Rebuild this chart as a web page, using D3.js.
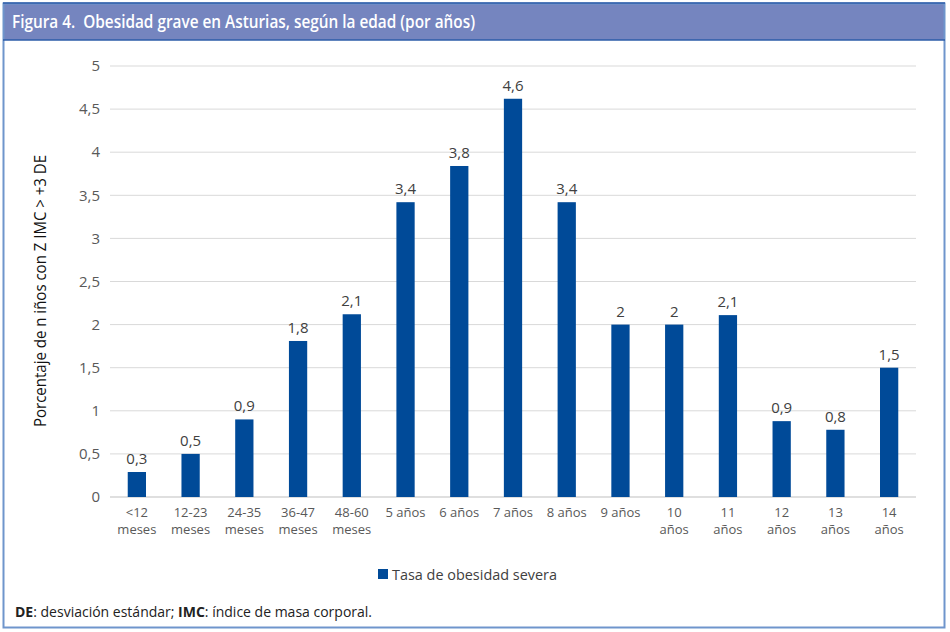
<!DOCTYPE html>
<html lang="es">
  <head>
    <meta charset="UTF-8" />
    <title>Obesidad grave en Asturias</title>
    <script src="https://d3js.org/d3.v7.min.js"></script>
    <style>
      body { margin: 0; background: #fff; }
      text { font-family: "Open Sans", sans-serif; }
    </style>
  </head>
  <body>
    <svg width="950" height="632"></svg>
    <script>
      // Datos
      const categories = [
        "<12|meses", "12-23|meses", "24-35|meses", "36-47|meses", "48-60|meses",
        "5 años", "6 años", "7 años", "8 años", "9 años",
        "10|años", "11|años", "12|años", "13|años", "14|años",
      ];
      const values = [0.29, 0.5, 0.9, 1.81, 2.12, 3.42, 3.84, 4.62, 3.42, 2.0, 2.0, 2.11, 0.88, 0.78, 1.5];
      const yTicks = [0, 0.5, 1, 1.5, 2, 2.5, 3, 3.5, 4, 4.5, 5];
      const seriesName = "Tasa de obesidad severa";

      const es = d3.formatLocale({ decimal: ",", thousands: ".", grouping: [3], currency: ["", "€"] });
      const fmt = es.format(".1~f");

      const svg = d3.select("svg");

      // Marco
      svg.append("rect").attr("x", 3).attr("y", 3).attr("width", 942).attr("height", 37)
        .style("fill", "#7585bf");
      svg.append("rect").attr("x", 3.5).attr("y", 3.5).attr("width", 941).attr("height", 624)
        .style("fill", "none").style("stroke", "#6f95cc").style("stroke-width", 2);
      svg.append("line").attr("x1", 3).attr("x2", 945).attr("y1", 40).attr("y2", 40)
        .style("stroke", "#2c5ca8").style("stroke-width", 1.5);
      svg.append("line").attr("x1", 3).attr("x2", 945).attr("y1", 3).attr("y2", 3)
        .style("stroke", "#2c5ca8").style("stroke-width", 1.5);

      svg.append("text").attr("x", 12).attr("y", 28)
        .attr("textLength", 463).attr("lengthAdjust", "spacingAndGlyphs")
        .style("fill", "#fff").style("font-size", "18px").style("font-weight", 600)
        .text("Figura 4.\u00a0\u00a0Obesidad grave en Asturias, según la edad (por años)");

      // Escalas
      const x = d3.scaleBand().domain(categories).range([110, 916]).paddingInner(0.66).paddingOuter(0.33);
      const y = d3.scaleLinear().domain([0, 5]).range([497, 66]);

      // Rejilla
      svg.append("g").selectAll("line").data(yTicks).enter().append("line")
        .attr("x1", 110).attr("x2", 916)
        .attr("y1", (d) => y(d)).attr("y2", (d) => y(d))
        .style("stroke", (d) => (d === 0 ? "#bfbfbf" : "#d9d9d9"))
        .style("stroke-width", 1);

      svg.append("g").selectAll("text").data(yTicks).enter().append("text")
        .attr("x", 100).attr("y", (d) => y(d)).attr("dy", "0.35em")
        .attr("text-anchor", "end")
        .style("font-size", "15px").style("fill", "#595959")
        .text((d) => fmt(d));

      svg.append("text")
        .attr("transform", "translate(46,291) rotate(-90)")
        .attr("text-anchor", "middle")
        .attr("textLength", 272).attr("lengthAdjust", "spacingAndGlyphs")
        .style("font-size", "16px").style("fill", "#111")
        .text("Porcentaje de n iños con Z IMC > +3 DE");

      // Barras
      svg.append("g").selectAll("rect").data(values).enter().append("rect")
        .attr("x", (d, i) => x(categories[i]))
        .attr("width", x.bandwidth())
        .attr("y", (d) => y(d))
        .attr("height", (d) => y(0) - y(d))
        .style("fill", "#004a98");

      svg.append("g").selectAll("text").data(values).enter().append("text")
        .attr("x", (d, i) => x(categories[i]) + x.bandwidth() / 2)
        .attr("y", (d) => y(d) - 8)
        .attr("text-anchor", "middle")
        .style("font-size", "15px").style("fill", "#404040")
        .text((d) => fmt(d));

      // Etiquetas del eje X
      const xl = svg.append("g").selectAll("text").data(categories).enter().append("text")
        .attr("x", (d) => x(d) + x.bandwidth() / 2)
        .attr("y", 517)
        .attr("text-anchor", "middle")
        .style("font-size", "13px").style("fill", "#595959");
      xl.each(function (d) {
        d.split("|").forEach((part, k) => {
          d3.select(this).append("tspan")
            .attr("x", x(d) + x.bandwidth() / 2)
            .attr("dy", k === 0 ? 0 : 17)
            .text(part);
        });
      });

      // Leyenda
      svg.append("rect").attr("x", 378).attr("y", 569).attr("width", 10).attr("height", 10)
        .style("fill", "#004a98");
      svg.append("text").attr("x", 392).attr("y", 580)
        .attr("textLength", 165).attr("lengthAdjust", "spacingAndGlyphs")
        .style("font-size", "15px").style("fill", "#404040")
        .text(seriesName);

      // Nota
      const note = svg.append("text").attr("x", 15).attr("y", 617)
        .style("font-size", "14px").style("fill", "#222");
      note.append("tspan").style("font-weight", "bold").text("DE");
      note.append("tspan").text(": desviación estándar; ");
      note.append("tspan").style("font-weight", "bold").text("IMC");
      note.append("tspan").text(": índice de masa corporal.");
    </script>
  </body>
</html>
